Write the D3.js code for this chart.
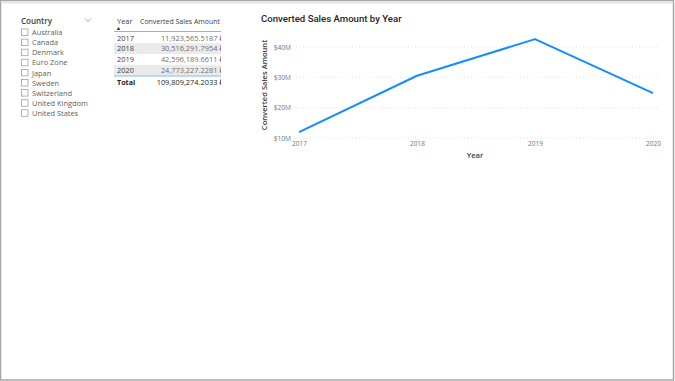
<!DOCTYPE html>
<html>
<head>
<meta charset="utf-8">
<script src="https://cdn.jsdelivr.net/npm/d3@7"></script>
<style>
  html, body { margin: 0; padding: 0; background: #fff; }
  svg { display: block; font-family: "Open Sans", "DejaVu Sans", sans-serif; }
</style>
</head>
<body>
<svg id="viz" width="675" height="381"></svg>
<script>
// slicer items
const countries = ["Australia", "Canada", "Denmark", "Euro Zone", "Japan", "Sweden", "Switzerland", "United Kingdom", "United States"];

// sales by year
const years = ["2017", "2018", "2019", "2020"];
const sales = [11923565.5187, 30516291.7954, 42596189.6611, 24773227.2281];
const salesText = ["11,923,565.5187 ₽", "30,516,291.7954 ₽", "42,596,189.6611 ₽", "24,773,227.2281 ₽"];
const totalText = "109,809,274.2033 ₽";

// y axis ticks
const yTicks = [10e6, 20e6, 30e6, 40e6];

const svg = d3.select("#viz");

// frame
svg.append("rect")
    .attr("x", 0.5).attr("y", 0.5)
    .attr("width", 673).attr("height", 379.5)
    .attr("fill", "none")
    .attr("stroke", "#a6a6a6")
    .attr("stroke-width", 1.5);
svg.append("rect")
    .attr("x", 1).attr("y", 1.5)
    .attr("width", 672).attr("height", 2)
    .attr("fill", "#e6e6e6");

// ---- slicer ----
const sl = svg.append("g");
sl.append("text")
    .attr("x", 21).attr("y", 24)
    .attr("font-size", 8).attr("font-weight", 600)
    .attr("fill", "#404040")
    .text("Country");
sl.append("path")
    .attr("d", "M85,18.5 L88,21.5 L91,18.5")
    .attr("fill", "none").attr("stroke", "#8a8a8a").attr("stroke-width", 0.8);

countries.forEach((c, i) => {
    const y = 32.5 + i * 10.1;
    sl.append("rect")
        .attr("x", 21.5).attr("y", y - 3.5)
        .attr("width", 6.5).attr("height", 6.5)
        .attr("fill", "#fff").attr("stroke", "#a0a0a0").attr("stroke-width", 0.8);
    sl.append("text")
        .attr("x", 32).attr("y", y + 2.6)
        .attr("font-size", 7.4)
        .attr("fill", "#605e5c")
        .text(c);
});

// ---- table ----
const tb = svg.append("g");
const tL = 114, tR = 221;
tb.append("defs").append("clipPath").attr("id", "tclip")
    .append("rect").attr("x", tL).attr("y", 10).attr("width", tR - tL).attr("height", 90);
const tg = tb.append("g").attr("clip-path", "url(#tclip)");

tg.append("text").attr("x", 117).attr("y", 24).attr("font-size", 7.4).attr("fill", "#404040").text("Year");
tg.append("text").attr("x", 140).attr("y", 24).attr("font-size", 7.4).attr("fill", "#404040")
    .attr("textLength", 80).attr("lengthAdjust", "spacingAndGlyphs")
    .text("Converted Sales Amount");
tg.append("path").attr("d", "M116.5,30 L118.5,27 L120.5,30 Z").attr("fill", "#404040");
tg.append("line").attr("x1", tL).attr("x2", tR).attr("y1", 31.5).attr("y2", 31.5)
    .attr("stroke", "#7fb8ec").attr("stroke-width", 1.2);

const rowY = d3.scaleBand().domain(years).range([32.5, 75.5]);
years.forEach((yr, i) => {
    const y0 = rowY(yr);
    if (i % 2 === 1) {
        tg.append("rect").attr("x", tL).attr("y", y0).attr("width", tR - tL).attr("height", rowY.bandwidth())
            .attr("fill", "#eaeaea");
    }
    tg.append("text").attr("x", 117).attr("y", y0 + rowY.bandwidth() / 2 + 2.7)
        .attr("font-size", 7.4).attr("fill", "#404040").text(yr);
    tg.append("text").attr("x", 224).attr("y", y0 + rowY.bandwidth() / 2 + 2.7)
        .attr("text-anchor", "end")
        .attr("font-size", 7.4).attr("fill", "#707070").text(salesText[i]);
});
tg.append("line").attr("x1", tL).attr("x2", tR).attr("y1", 76).attr("y2", 76)
    .attr("stroke", "#7fb8ec").attr("stroke-width", 1.2);
tg.append("text").attr("x", 117).attr("y", 84.5).attr("font-size", 7.2).attr("font-weight", 700)
    .attr("fill", "#252423").text("Total");
tg.append("text").attr("x", 224).attr("y", 84.5).attr("text-anchor", "end")
    .attr("font-size", 7.4).attr("fill", "#252423").text(totalText);

// ---- line chart ----
const ch = svg.append("g");
ch.append("text")
    .attr("x", 261).attr("y", 22)
    .attr("font-family", "Roboto, 'DejaVu Sans', sans-serif")
    .attr("font-size", 9.6).attr("font-weight", 500)
    .attr("fill", "#252423")
    .text("Converted Sales Amount by Year");

const x = d3.scalePoint().domain(years).range([299, 653]);
const y = d3.scaleLinear().domain([10e6, 40e6]).range([138, 47]);

// gridlines
ch.append("g").selectAll("line").data(yTicks).join("line")
    .attr("x1", 296).attr("x2", 660)
    .attr("y1", d => y(d)).attr("y2", d => y(d))
    .attr("stroke", "#d9d9d9").attr("stroke-width", 0.8)
    .attr("stroke-dasharray", "1,2.5");

// y axis
const yAxis = d3.axisLeft(y).tickValues(yTicks).tickSize(0).tickPadding(0)
    .tickFormat(d => "$" + d3.format(".0f")(d / 1e6) + "M");
const yg = ch.append("g").attr("transform", "translate(291,0)").call(yAxis);
yg.select(".domain").remove();
yg.selectAll("text").attr("font-size", 6.6).attr("fill", "#777").attr("font-family", "'Open Sans', sans-serif");

// x axis
const xAxis = d3.axisBottom(x).tickSize(0).tickPadding(0);
const xg = ch.append("g").attr("transform", "translate(0,141)").call(xAxis);
xg.select(".domain").remove();
xg.selectAll("text").attr("font-size", 6.6).attr("fill", "#777").attr("font-family", "'Open Sans', sans-serif");

// axis titles
ch.append("text")
    .attr("transform", "translate(267,85) rotate(-90)")
    .attr("text-anchor", "middle")
    .attr("font-size", 7.6).attr("font-weight", 600)
    .attr("fill", "#404040")
    .text("Converted Sales Amount");
ch.append("text")
    .attr("x", 475).attr("y", 158)
    .attr("text-anchor", "middle")
    .attr("font-size", 7.6).attr("font-weight", 600)
    .attr("fill", "#404040")
    .text("Year");

// line
const line = d3.line().x((d, i) => x(years[i])).y(d => y(d));
ch.append("path")
    .datum(sales)
    .attr("d", line)
    .attr("fill", "none")
    .attr("stroke", "#118dff")
    .attr("stroke-width", 2)
    .attr("stroke-linejoin", "round");
</script>
</body>
</html>
